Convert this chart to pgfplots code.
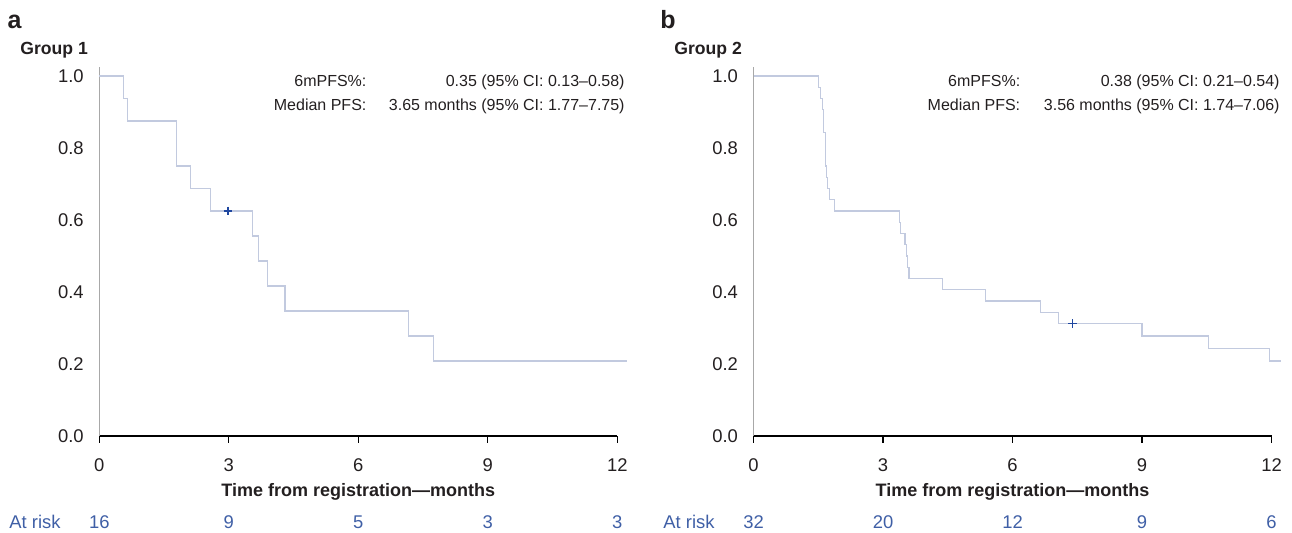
\documentclass[border=0pt]{standalone}
\usepackage{pgfplots}
\pgfplotsset{compat=1.18}
\usepackage{fontspec}
\setmainfont{Liberation Sans}
\definecolor{curve}{HTML}{C2CADF}
\definecolor{cens}{HTML}{1F47A0}
\definecolor{risk}{HTML}{3F5FA6}
\definecolor{yax}{HTML}{A8A8A8}
\definecolor{txt}{HTML}{231F20}
\tikzset{risknum/.style={risk, anchor=base, inner sep=0pt, yshift=-46.2pt, font=\fontsize{9.2}{11}\selectfont}}
\pgfplotsset{kmaxis/.style={
  scale only axis, width=259pt, height=184.5pt,
  xmin=0, xmax=12, ymin=0, ymax=1.025,
  axis x line*=bottom, axis y line*=left,
  x axis line style={black, line width=0.6pt, -},
  y axis line style={yax, line width=0.6pt, -},
  xtick={0,3,6,9,12}, ytick={0,0.2,0.4,0.6,0.8,1.0},
  yticklabel style={/pgf/number format/fixed, /pgf/number format/fixed zerofill, /pgf/number format/precision=1,
     anchor=east, inner sep=0pt, xshift=-4.2pt},
  xticklabel style={anchor=base, inner sep=0pt, yshift=-14.2pt},
  tick label style={font=\fontsize{9.2}{11}\selectfont, text=txt},
  /pgf/number format/assume math mode=true,
  xtick style={black, line width=0.6pt},
  ytick style={draw=none},
  tick align=outside, major tick length=3.4pt,
  clip=false,
  xlabel={Time from registration—months},
  xlabel style={at={(axis description cs:0.5,0)}, anchor=base, inner sep=0pt, yshift=-30pt,
     font=\fontsize{9}{11}\selectfont\bfseries, text=txt},
}}
\begin{document}
\begin{tikzpicture}
\useasboundingbox (0,0) rectangle (646pt,-266pt);
% ---- Panel a ----
\begin{axis}[kmaxis, at={(49.65pt,-218pt)}, anchor=south west]
\addplot[const plot, color=curve, line width=0.6pt] coordinates {
(0,1.0) (0.56,0.9375) (0.65,0.875) (1.79,0.75) (2.12,0.6875) (2.57,0.625)
(3.55,0.5556) (3.68,0.4861) (3.89,0.4167) (4.30,0.3472) (7.16,0.2778)
(7.75,0.2083) (12.23,0.2083)};
\addplot[only marks, mark=+, mark size=2.2pt, color=cens, line width=0.6pt] coordinates {(2.98,0.625)};
\node[risknum] at (axis cs:0,0) {16};
\node[risknum] at (axis cs:3,0) {9};
\node[risknum] at (axis cs:6,0) {5};
\node[risknum] at (axis cs:9,0) {3};
\node[risknum] at (axis cs:12,0) {3};
\end{axis}
% ---- Panel b ----
\begin{axis}[kmaxis, at={(376.75pt,-218pt)}, anchor=south west]
\addplot[const plot, color=curve, line width=0.6pt] coordinates {
(0,1.0) (1.50,0.96875) (1.55,0.9375) (1.60,0.90625) (1.63,0.84375) (1.66,0.75)
(1.70,0.71875) (1.72,0.6875) (1.76,0.65625) (1.87,0.625)
(3.38,0.59375) (3.41,0.5625) (3.51,0.53125) (3.54,0.5) (3.57,0.46875) (3.60,0.4375)
(4.38,0.40625) (5.38,0.375) (6.64,0.34375) (7.07,0.3125)
(9.00,0.2778) (10.54,0.2431) (11.95,0.2083) (12.22,0.2083)};
\addplot[only marks, mark=+, mark size=2.2pt, color=cens, line width=0.6pt] coordinates {(7.39,0.3125)};
\node[risknum] at (axis cs:0,0) {32};
\node[risknum] at (axis cs:3,0) {20};
\node[risknum] at (axis cs:6,0) {12};
\node[risknum] at (axis cs:9,0) {9};
\node[risknum] at (axis cs:12,0) {6};
\end{axis}
% ---- Texts ----
\node[anchor=base west, inner sep=0pt, text=txt, font=\fontsize{12.5}{14}\selectfont\bfseries] at (3.6pt,-14pt) {a};
\node[anchor=base west, inner sep=0pt, text=txt, font=\fontsize{12.5}{14}\selectfont\bfseries] at (330pt,-14pt) {b};
\node[anchor=base west, inner sep=0pt, text=txt, font=\fontsize{8.8}{10}\selectfont\bfseries] at (10pt,-27pt) {Group 1};
\node[anchor=base west, inner sep=0pt, text=txt, font=\fontsize{8.8}{10}\selectfont\bfseries] at (337pt,-27pt) {Group 2};
\begin{scope}[every node/.style={inner sep=0pt, font=\fontsize{8}{9.6}\selectfont, text=txt}]
\node[anchor=base east] at (183.4pt,-43.2pt) {6mPFS\%:};
\node[anchor=base east] at (183.4pt,-55.3pt) {Median PFS:};
\node[anchor=base east] at (312.5pt,-43.2pt) {0.35 (95\% CI: 0.13–0.58)};
\node[anchor=base east] at (312.5pt,-55.3pt) {3.65 months (95\% CI: 1.77–7.75)};
\node[anchor=base east] at (510.3pt,-43.2pt) {6mPFS\%:};
\node[anchor=base east] at (510.3pt,-55.3pt) {Median PFS:};
\node[anchor=base east] at (640pt,-43.2pt) {0.38 (95\% CI: 0.21–0.54)};
\node[anchor=base east] at (640pt,-55.3pt) {3.56 months (95\% CI: 1.74–7.06)};
\end{scope}
\node[anchor=base west, inner sep=0pt, risk, font=\fontsize{9.2}{11}\selectfont] at (4.5pt,-264.2pt) {At risk};
\node[anchor=base west, inner sep=0pt, risk, font=\fontsize{9.2}{11}\selectfont] at (331.5pt,-264.2pt) {At risk};
\end{tikzpicture}
\end{document}
